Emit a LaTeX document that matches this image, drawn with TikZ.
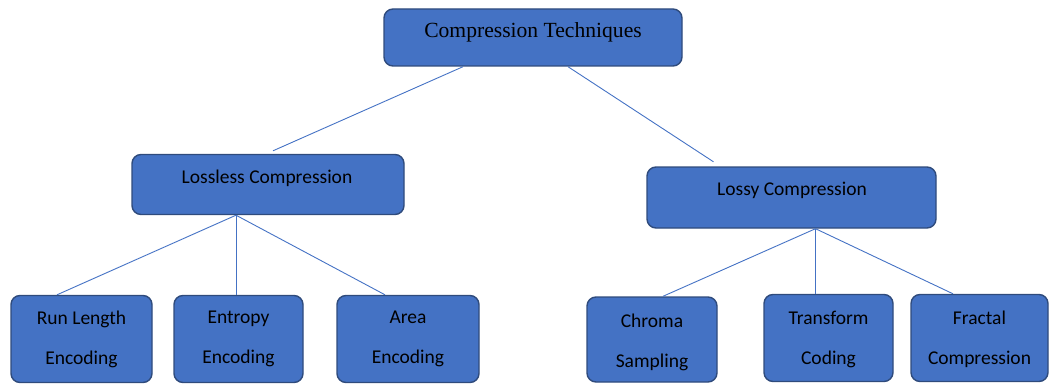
\documentclass[tikz,border=0pt]{standalone}
\usepackage{fontspec}
\setmainfont{Carlito}
\newfontfamily\timesfont{Liberation Serif}
\definecolor{boxfill}{HTML}{4472C4}
\definecolor{boxline}{HTML}{2F4B7C}
\definecolor{linkcol}{HTML}{4472C4}
\begin{document}
\begin{tikzpicture}[x=1pt,y=-1pt,
  box/.style={draw=boxline, fill=boxfill, line width=1.4pt, rounded corners=9pt, inner sep=0pt},
  txt/.style={inner sep=0pt, font=\fontsize{19.5}{40}\selectfont, text=black, align=center},
  link/.style={draw=linkcol, line width=0.9pt}]
\useasboundingbox (0,0) rectangle (1049,385);

% boxes
\node[box, minimum width=298pt, minimum height=57pt] (top) at (533,37.5) {};
\node[box, minimum width=272pt, minimum height=60pt] (lossless) at (268,184.5) {};
\node[box, minimum width=289pt, minimum height=61pt] (lossy) at (791.5,197.5) {};
\node[box, minimum width=141pt, minimum height=87pt] (runlen) at (81.5,339) {};
\node[box, minimum width=129pt, minimum height=87pt] (entropy) at (238.5,339) {};
\node[box, minimum width=142pt, minimum height=87pt] (area) at (408,339) {};
\node[box, minimum width=130pt, minimum height=85pt] (chroma) at (652,339.5) {};
\node[box, minimum width=129pt, minimum height=87pt] (transform) at (828.5,338) {};
\node[box, minimum width=137pt, minimum height=87pt] (fractal) at (979.5,338) {};

% labels
\node[txt, font=\timesfont\fontsize{21.6}{24}\selectfont] (topT) at (533,32) {Compression Techniques};
\node[txt] (losslessT) at (267,178) {Lossless Compression};
\node[txt] (lossyT) at (792,190) {Lossy Compression};
\node[txt] (runlenT) at (81.5,339) {Run Length\\Encoding};
\node[txt] (entropyT) at (238.5,339) {Entropy\\Encoding};
\node[txt] (areaT) at (408,339) {Area\\Encoding};
\node[txt] (chromaT) at (652,342) {Chroma\\Sampling};
\node[txt] (transformT) at (828.5,339) {Transform\\Coding};
\node[txt] (fractalT) at (979.5,339) {Fractal\\Compression};

% free ends of the first-level links
\coordinate (toLossless) at ([xshift=5pt,yshift=3pt]lossless.north);
\coordinate (toLossy) at ([xshift=-78pt,yshift=4.5pt]lossy.north);

% connectors
\draw[link] ([xshift=-70pt]top.south) -- (toLossless);
\draw[link] ([xshift=35pt]top.south) -- (toLossy);
\draw[link] ([xshift=-32pt]lossless.south) -- ([xshift=-24.5pt]runlen.north);
\draw[link] ([xshift=-32pt]lossless.south) -- ([xshift=-2.5pt]entropy.north);
\draw[link] ([xshift=-32pt]lossless.south) -- ([xshift=-23pt]area.north);
\draw[link] ([xshift=24pt]lossy.south) -- ([xshift=11pt]chroma.north);
\draw[link] ([xshift=24pt]lossy.south) -- ([xshift=-13pt]transform.north);
\draw[link] ([xshift=24pt]lossy.south) -- ([xshift=-26.5pt]fractal.north);
\end{tikzpicture}
\end{document}
